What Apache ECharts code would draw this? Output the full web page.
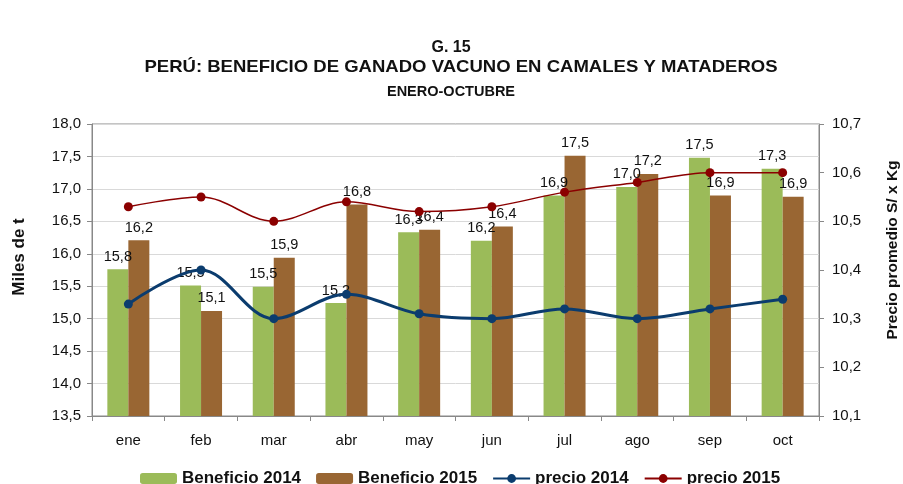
<!DOCTYPE html>
<html>
<head>
<meta charset="utf-8">
<script src="https://cdn.jsdelivr.net/npm/echarts@6/dist/echarts.min.js"></script>
<style>
  html, body { margin: 0; padding: 0; background: #fff; }
  #chart { width: 903px; height: 484px; }
</style>
</head>
<body>
<div id="chart"></div>
<script>
// meses
const months = ['ene', 'feb', 'mar', 'abr', 'may', 'jun', 'jul', 'ago', 'sep', 'oct']
// beneficio (miles de t)
const beneficio2014 = [15.76, 15.51, 15.49, 15.24, 16.33, 16.2, 16.9, 17.03, 17.48, 17.31]
const beneficio2015 = [16.21, 15.12, 15.94, 16.76, 16.37, 16.42, 17.51, 17.23, 16.9, 16.88]
// precio promedio S/ x Kg
const precio2014 = [10.33, 10.40, 10.30, 10.35, 10.31, 10.30, 10.32, 10.30, 10.32, 10.34]
const precio2015 = [10.53, 10.55, 10.50, 10.54, 10.52, 10.53, 10.56, 10.58, 10.60, 10.60]

const font = 'Liberation Sans, Arial, sans-serif'
const comma = v => v.toFixed(1).replace('.', ',')

const chart = echarts.init(document.getElementById('chart'))

const barLabel = {
  show: true,
  position: 'top',
  distance: 5,
  fontFamily: font,
  fontSize: 14.5,
  color: '#111',
  formatter: p => comma(p.value)
}

const option = {
  animation: false,
  textStyle: { fontFamily: font },
  graphic: [
    { type: 'text', x: 451, y: 48, style: { text: 'G. 15', font: 'bold 16px ' + font, fill: '#111', align: 'center', verticalAlign: 'middle' } },
    { type: 'text', x: 461, y: 67, scaleX: 1.09, style: { text: 'PERÚ: BENEFICIO DE GANADO VACUNO EN CAMALES Y MATADEROS', font: 'bold 17px ' + font, fill: '#111', align: 'center', verticalAlign: 'middle' } },
    { type: 'text', x: 451, y: 92, style: { text: 'ENERO-OCTUBRE', font: 'bold 14.5px ' + font, fill: '#111', align: 'center', verticalAlign: 'middle' } },
    { type: 'text', x: 19, y: 257, rotation: Math.PI / 2, style: { text: 'Miles de t', font: 'bold 17px ' + font, fill: '#111', align: 'center', verticalAlign: 'middle' } },
    { type: 'text', x: 893, y: 250, rotation: Math.PI / 2, style: { text: 'Precio promedio S/ x Kg', font: 'bold 15.5px ' + font, fill: '#111', align: 'center', verticalAlign: 'middle' } }
  ],
  grid: {
    left: 92, right: 84, top: 124, bottom: 68,
    show: true, borderColor: '#888', borderWidth: 1
  },
  legend: {
    left: 135, top: 465,
    itemWidth: 37, itemHeight: 11, itemGap: 15,
    textStyle: { fontFamily: font, fontSize: 17, fontWeight: 'bold', color: '#111' },
    data: ['Beneficio 2014', 'Beneficio 2015', 'precio 2014', 'precio 2015']
  },
  xAxis: {
    type: 'category',
    data: months,
    axisLine: { lineStyle: { color: '#888' } },
    axisTick: { show: true, length: 5, lineStyle: { color: '#888' } },
    axisLabel: { fontFamily: font, fontSize: 15, color: '#111', margin: 17 }
  },
  yAxis: [
    {
      type: 'value', min: 13.5, max: 18, interval: 0.5,
      axisLine: { show: true, lineStyle: { color: '#888' } },
      axisTick: { show: true, length: 5, lineStyle: { color: '#888' } },
      axisLabel: { fontFamily: font, fontSize: 15, color: '#111', margin: 11, formatter: comma },
      splitLine: { lineStyle: { color: '#d9d9d9' } }
    },
    {
      type: 'value', min: 10.1, max: 10.7, interval: 0.1,
      axisLine: { show: true, lineStyle: { color: '#888' } },
      axisTick: { show: true, length: 5, lineStyle: { color: '#888' } },
      axisLabel: { fontFamily: font, fontSize: 15, color: '#111', margin: 13, formatter: comma },
      splitLine: { show: false }
    }
  ],
  series: [
    {
      name: 'Beneficio 2014', type: 'bar', data: beneficio2014,
      barWidth: 21, barGap: '0%',
      itemStyle: { color: '#9bbb59' },
      label: barLabel
    },
    {
      name: 'Beneficio 2015', type: 'bar', data: beneficio2015,
      barWidth: 21, barGap: '0%',
      itemStyle: { color: '#996633' },
      label: barLabel
    },
    {
      name: 'precio 2014', type: 'line', yAxisIndex: 1, data: precio2014,
      smooth: 0.35, symbol: 'circle', symbolSize: 9,
      lineStyle: { color: '#0b3c6e', width: 3 },
      itemStyle: { color: '#0b3c6e' },
      z: 5
    },
    {
      name: 'precio 2015', type: 'line', yAxisIndex: 1, data: precio2015,
      smooth: 0.35, symbol: 'circle', symbolSize: 9,
      lineStyle: { color: '#8b0000', width: 1.5 },
      itemStyle: { color: '#8b0000' },
      z: 5
    }
  ]
}

chart.setOption(option)
</script>
</body>
</html>
